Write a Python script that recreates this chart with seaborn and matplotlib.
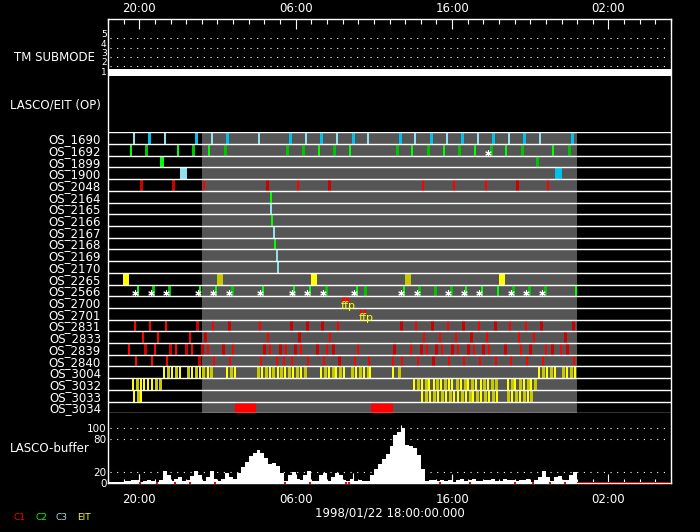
import matplotlib
matplotlib.use("Agg")
import matplotlib.pyplot as plt
import numpy as np
import pandas as pd
import seaborn as sns

sns.set_theme(style="dark")
plt.rcParams.update({
    "font.family": ["DejaVu Sans"],
    "figure.facecolor": "black",
    "axes.facecolor": "black",
    "text.color": "white",
    "axes.edgecolor": "white",
    "xtick.color": "white",
    "ytick.color": "white",
    "axes.grid": False,
})

# ---------------- data (time = hours after 1998/01/22 18:00) ----------------
X_RANGE = (0, 36)
HOUR_TICKS = list(range(0, 37))
MAJOR_HOURS = [2, 12, 22, 32]
MAJOR_LABELS = ["20:00", "06:00", "16:00", "02:00"]
DAY_SPAN = (6, 30)
DATE_LABEL = "1998/01/22 18:00:00.000"

TM_TIMES = [0, 36]
TM_SUBMODE = [1, 1]
TM_LEVELS = [1, 2, 3, 4, 5]

ROWS = ["OS_1690", "OS_1692", "OS_1899", "OS_1900", "OS_2048", "OS_2164",
        "OS_2165", "OS_2166", "OS_2167", "OS_2168", "OS_2169", "OS_2170",
        "OS_2265", "OS_2566", "OS_2700", "OS_2701", "OS_2831", "OS_2833",
        "OS_2839", "OS_2840", "OS_3004", "OS_3032", "OS_3033", "OS_3034"]

# instrument codes: R/r = C1, G/g = C2, C/c = C3, Y/y = EIT (upper = bright variant)
EV_T = [
    [1.64, 2.64, 3.62, 5.64, 6.63, 7.62, 9.63, 11.64, 12.63, 13.64, 14.62, 15.66,
     16.65, 18.67, 19.65, 20.65, 21.65, 22.66, 23.63, 24.65, 25.66, 26.63, 27.64, 29.67],
    [1.45, 2.45, 4.48, 5.45, 6.44, 7.48, 11.46, 12.45, 13.49, 14.47, 15.47, 18.46,
     19.46, 20.46, 21.46, 22.46, 23.47, 24.47, 25.47, 26.47, 28.47, 29.48],
    [],
    [],
    [2.13, 4.14, 6.14, 10.15, 12.15, 14.11, 20.12, 22.14, 24.17, 26.15, 28.13],
    [10.42], [10.44], [10.51], [10.63], [10.70], [10.82], [10.89],
    [],
    [1.90, 2.90, 3.92, 5.90, 6.92, 7.93, 9.93, 11.91, 12.94, 13.94, 15.94, 16.45,
     18.91, 19.90, 20.93, 21.91, 22.91, 23.93, 24.92, 25.91, 26.94, 27.94, 29.92],
    [],
    [],
    [1.75, 2.71, 3.73, 5.71, 6.73, 7.72, 9.74, 11.72, 12.74, 13.70, 14.73, 18.75,
     19.71, 20.74, 21.76, 22.72, 23.74, 24.72, 25.72, 26.75, 27.70, 29.75],
    [2.26, 3.22, 5.26, 6.22, 10.25, 12.23, 14.21, 20.22, 21.25, 22.27, 23.23, 24.25,
     26.26, 27.24, 29.24],
    [1.36, 2.39, 3.02, 3.98, 4.37, 5.01, 5.39, 6.03, 6.41, 7.37, 8.01, 9.99, 10.38,
     11.02, 11.40, 11.98, 12.36, 13.38, 14.02, 14.40, 16.00, 18.31, 19.39, 20.03,
     20.42, 20.99, 21.37, 22.01, 22.40, 23.04, 23.42, 24.00, 24.38, 25.40, 26.43,
     27.00, 28.02, 28.41, 28.98, 29.37],
    [1.81, 2.83, 3.79, 5.84, 6.80, 7.82, 9.80, 10.82, 11.27, 11.78, 12.81, 13.83,
     14.79, 15.81, 16.71, 18.24, 18.82, 19.84, 20.80, 21.82, 22.78, 23.81, 24.83,
     25.79, 26.81, 27.83, 29.81],
    [3.56, 3.82, 4.07, 4.33, 4.58, 5.10, 5.35, 5.61, 5.86, 6.05, 6.37, 6.57, 7.59,
     7.85, 8.10, 9.59, 9.85, 10.10, 10.36, 10.55, 10.87, 11.06, 11.32, 11.57, 11.83,
     12.08, 12.34, 12.60, 13.62, 13.87, 14.13, 14.39, 14.58, 14.83, 15.09, 15.60,
     15.86, 16.11, 16.37, 16.62, 16.75, 18.22, 18.61, 27.58, 27.83, 28.05, 28.34,
     28.60, 29.11, 29.33, 29.60, 29.86],
    [1.58, 1.84, 2.09, 2.32, 2.58, 2.83, 3.05, 3.31, 19.58, 19.84, 20.10, 20.35,
     20.54, 20.86, 21.05, 21.31, 21.57, 21.82, 22.01, 22.33, 22.59, 22.85, 23.04,
     23.29, 23.55, 23.87, 24.06, 24.32, 24.57, 24.83, 25.59, 25.85, 26.04, 26.36,
     26.62, 26.87, 27.07, 27.32],
    [1.64, 1.90, 2.09, 20.10, 20.35, 20.61, 20.86, 21.12, 21.37, 21.63, 21.89, 22.14,
     22.40, 22.65, 22.91, 23.16, 23.36, 23.61, 23.87, 24.12, 24.38, 24.64, 24.89,
     25.59, 25.85, 26.11, 26.36, 26.62, 26.87, 27.07],
    [],
]
EV_C = [
    "CcCcCcCcCcCcCcCcCcCcCcCc",
    "GgGgGgggGgGgGgGgGgGgGg",
    "",
    "",
    "rrRrRrRRRrR",
    "G", "C", "G", "C", "G", "C", "C",
    "",
    "GggGGgGGGgGgGgggGGGgggG",
    "",
    "",
    "RRRrRrRrrrRrRrRrRrRRrr",
    "RRRrRrRRRRrRRRr",
    "RrRrRrRrRrRrRrRrRrRrRrRrRrRrRrRrRrRrRrRr",
    "RRRrRRRRRRRRrRRRRRrRRRRRRRR",
    "YyYyYyYyYyYyYyYyYyYyYyYyYyYyYyYyYyYyYyYy" + "YYy" + "YyYyYyYyY",
    "YyYYYYyy" + "YyYyYYyYyYYyYyYyYYyYyy" + "YyYyYyYy",
    "YyY" + "YyYyYyYyYYyYyYyYyYyY" + "yYyYyYy",
    "",
]
# block events: row index -> (start hour, duration hours, code)
BLOCKS = {
    2: [(3.32, 0.26, "G"), (27.37, 0.19, "g")],
    3: [(4.60, 0.45, "C"), (28.58, 0.45, "c")],
    12: [(0.98, 0.36, "Y"), (6.97, 0.38, "y"), (12.98, 0.38, "Y"),
         (18.99, 0.38, "y"), (25.00, 0.38, "Y")],
    14: [(14.96, 0.20, "R"), (15.22, 0.20, "R")],
    15: [(16.10, 0.15, "R"), (16.37, 0.13, "R")],
    23: [(8.12, 1.32, "R"), (16.82, 1.38, "R")],
}
STAR_ROW13_T = [1.73, 2.73, 3.71, 5.73, 6.69, 7.72, 9.72, 11.74, 12.72, 13.73, 15.73,
                18.75, 19.74, 21.74, 22.74, 23.72, 25.75, 26.73, 27.73]
STAR_ROW1_T = [24.28]
FFP_T = [14.96, 16.10]
FFP_ROW = [14, 15]

# LASCO buffer, 15-minute samples from 0 h to 30 h
BUF_T = np.arange(0, 30, 0.25)
BUF_V = [1, 1, 1, 2, 4, 3, 5, 6, 2, 4, 6, 4, 2, 6, 22, 14, 4, 8, 11, 3,
         6, 12, 22, 14, 4, 10, 22, 8, 3, 8, 18, 10, 8, 18, 28, 38, 48, 55, 60, 54,
         45, 34, 36, 30, 18, 4, 14, 20, 8, 6, 14, 22, 3, 3, 14, 18, 4, 10, 18, 14,
         6, 4, 8, 4, 5, 4, 4, 14, 26, 35, 44, 53, 66, 86, 92, 100, 68, 67, 63, 50,
         25, 3, 6, 5, 4, 6, 3, 5, 2, 6, 7, 3, 5, 7, 4, 3, 6, 5, 7, 3,
         4, 7, 5, 6, 3, 6, 5, 7, 2, 6, 10, 22, 10, 4, 10, 12, 6, 6, 14, 20]
SPIKE_T = [1.98, 15.68, 18.73, 22.01]
SPIKE_V = [16, 18, 105, 15]
BUF_RED_T = [2.03, 3.15, 4.26, 5.22, 6.86, 11.30, 12.89, 15.24, 15.41, 21.23,
             23.15, 26.02, 27.19, 28.26, 29.22]
BUF_NODATA = (30, 36)
BUF_TICKS = [0, 20, 80, 100]
BUF_GRID = [20, 80, 100]

LEG_LABELS = ["C1", "C2", "C3", "EIT"]

# ---------------- style ----------------
COL = {"R": "#ff0000", "r": "#cc0000", "G": "#00ff00", "g": "#00c400",
       "C": "#90e0ee", "c": "#00c0ee", "Y": "#ffff00", "y": "#c8c800"}
LWS = {k: (1.44 if k.isupper() else 0.9) for k in COL}
LEG_COLORS = ["#ff0000", "#00ff00", "#9ee0f0", "#ffff00"]
LEG_X = [13, 35, 56, 77]
GRAY = "#555555"
DOT = (0, (1, 5))
FS = 8.5

W, H = 700, 532
fig = plt.figure(figsize=(W / 100, H / 100), dpi=100, facecolor="black")


def add_ax(x0, y0, x1, y1, z=1):
    return fig.add_axes([x0 / W, 1 - y1 / H, (x1 - x0) / W, (y1 - y0) / H], zorder=z)


LEFT, RIGHT = 108, 671
TOP, BOT = 19, 483

# frame with top time axis
axf = add_ax(LEFT, TOP, RIGHT, BOT, 0)
axf.set_facecolor("black")
axf.set_xlim(*X_RANGE)
axf.set_ylim(0, 1)
axf.set_yticks([])
axf.xaxis.tick_top()
axf.set_xticks(MAJOR_HOURS)
axf.set_xticklabels(MAJOR_LABELS)
axf.set_xticks(HOUR_TICKS, minor=True)
axf.tick_params(axis="x", which="both", direction="in", colors="white",
                labelsize=FS, pad=3.0, top=True, bottom=False, labeltop=True, labelbottom=False)
axf.tick_params(axis="x", which="major", length=7.5, width=0.8)
axf.tick_params(axis="x", which="minor", length=3.8, width=0.8)
for s in axf.spines.values():
    s.set_color("white")
    s.set_linewidth(1.0)

# TM submode panel
axt = add_ax(LEFT, TOP, RIGHT, 85)
axt.set_facecolor("none")
axt.set_xlim(*X_RANGE)
axt.set_ylim(0, 66 / 9.33)
axt.hlines(TM_LEVELS[1:], 0.15, 35.85, colors="white", linestyles=DOT, lw=0.8)
sub = np.array(TM_SUBMODE, dtype=float)
axt.fill_between(TM_TIMES, sub - 0.04, sub + 0.71, color="white", lw=0)
axt.set_xticks([])
axt.set_yticks(np.array(TM_LEVELS) + 0.5)
axt.set_yticklabels([str(v) for v in TM_LEVELS])
axt.tick_params(axis="y", length=0, pad=1, labelsize=6.5, colors="white")
for s in axt.spines.values():
    s.set_visible(False)

# OS rows panel
nrow = len(ROWS)
axo = add_ax(LEFT, 132.3, RIGHT, 413.3)
axo.set_facecolor("none")
axo.set_xlim(*X_RANGE)
axo.set_ylim(nrow, 0)
axo.axvspan(*DAY_SPAN, color=GRAY, lw=0, zorder=0)
for i, (ts, cs) in enumerate(zip(EV_T, EV_C)):
    for t, c in zip(ts, cs):
        axo.vlines(t, i, i + 1, colors=COL[c], lw=LWS[c], antialiased=False, zorder=2)
for i, blocks in BLOCKS.items():
    hgt = 0.48 if i in FFP_ROW else 1.0
    for s0, d, c in blocks:
        axo.bar(s0, hgt, width=d, bottom=i, align="edge", color=COL[c], lw=0, zorder=2)
axo.hlines(np.arange(nrow + 1), X_RANGE[0], X_RANGE[1], colors="white", lw=1.0, zorder=3)
axo.scatter(STAR_ROW13_T, [13.75] * len(STAR_ROW13_T), marker=(6, 2, 0), s=16,
            c="white", lw=0.8, zorder=4)
axo.scatter(STAR_ROW1_T, [1.8] * len(STAR_ROW1_T), marker=(6, 2, 0), s=16,
            c="white", lw=0.8, zorder=4)
for t, r in zip(FFP_T, FFP_ROW):
    axo.text(t - 0.05, r + 0.85, "ffp", color="yellow", fontsize=8, ha="left",
             va="center", zorder=5)
axo.set_xticks([])
axo.set_yticks(np.arange(nrow) + 0.5)
axo.set_yticklabels(ROWS)
axo.tick_params(axis="y", length=0, pad=5, labelsize=FS, colors="white")
for s in axo.spines.values():
    s.set_visible(False)

# LASCO buffer panel
buf_df = pd.DataFrame({"t": BUF_T, "v": BUF_V})
axb = add_ax(LEFT, 413.3, RIGHT, BOT)
axb.set_facecolor("none")
sns.histplot(data=buf_df, x="t", weights="v", binwidth=0.25, binrange=(0, 30),
             element="step", fill=True, color="white", alpha=1, linewidth=0, ax=axb)
axb.vlines(SPIKE_T, 0, SPIKE_V, colors="white", lw=0.8)
axb.hlines(BUF_GRID, 0.15, 35.85, colors="white", linestyles=DOT, lw=0.8)
axb.hlines(0, *BUF_NODATA, colors="red", lw=1.4, zorder=3)
axb.plot(BUF_RED_T, [0.5] * len(BUF_RED_T), "s", ms=1.6, color="red", mew=0, zorder=3)
axb.set_xlim(*X_RANGE)
axb.set_ylim(0, 125.8)
axb.set_xlabel("")
axb.set_ylabel("")
axb.set_xticks(MAJOR_HOURS)
axb.set_xticklabels(MAJOR_LABELS)
axb.set_xticks(HOUR_TICKS, minor=True)
axb.tick_params(axis="x", which="both", direction="in", colors="white", labelsize=FS,
                pad=7.5, bottom=True, top=False)
axb.tick_params(axis="x", which="major", length=6.5, width=0.8)
axb.tick_params(axis="x", which="minor", length=2.6, width=0.8)
axb.set_yticks(BUF_TICKS)
axb.set_yticklabels([str(v) for v in BUF_TICKS])
axb.tick_params(axis="y", length=0, pad=1.0, labelsize=7.5, colors="white", left=True)
for s in axb.spines.values():
    s.set_visible(False)

# labels
fig.text(95 / W, 1 - 57.5 / H, "TM SUBMODE", ha="right", va="center", fontsize=FS, color="white")
fig.text(101 / W, 1 - 105 / H, "LASCO/EIT (OP)", ha="right", va="center", fontsize=FS, color="white")
fig.text(90 / W, 1 - 449 / H, "LASCO-buffer", ha="right", va="center", fontsize=FS, color="white")
fig.text(389.5 / W, 1 - 513.5 / H, DATE_LABEL, ha="center", va="center", fontsize=FS, color="white")
for lab, col, x in zip(LEG_LABELS, LEG_COLORS, LEG_X):
    fig.text(x / W, 1 - 517 / H, lab, ha="left", va="center", fontsize=6.5, color=col)

fig.savefig("out.png", dpi=100, facecolor="black")
